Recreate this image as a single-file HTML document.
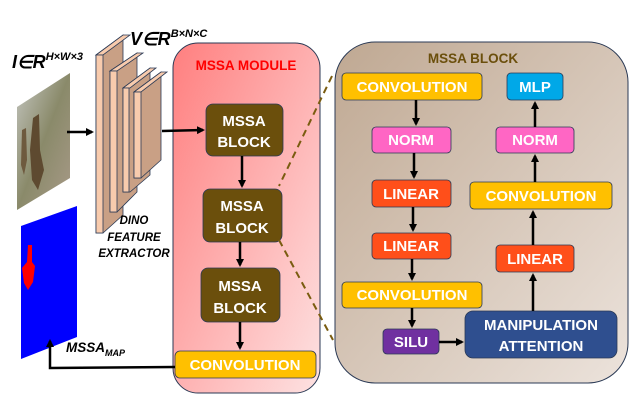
<!DOCTYPE html>
<html><head><meta charset="utf-8"><style>
html,body{margin:0;padding:0;background:#fff;}
svg{display:block;font-family:"Liberation Sans",sans-serif;font-weight:bold;}
</style></head><body>
<svg width="644" height="403" viewBox="0 0 644 403" xmlns="http://www.w3.org/2000/svg">
<defs>
<linearGradient id="gm" x1="0" y1="0" x2="1" y2="1"><stop offset="0" stop-color="#ff7f7f"/><stop offset="1" stop-color="#fde2e2"/></linearGradient>
<linearGradient id="gb" x1="0" y1="0" x2="1" y2="1"><stop offset="0" stop-color="#bfa892"/><stop offset="1" stop-color="#ece3dc"/></linearGradient>
<linearGradient id="gi" x1="0" y1="0" x2="1" y2="1"><stop offset="0" stop-color="#c4c6c0"/><stop offset="0.5" stop-color="#8a8a6a"/><stop offset="1" stop-color="#a89a88"/></linearGradient>
<marker id="ah" markerWidth="8" markerHeight="8" refX="6" refY="4" orient="auto" markerUnits="userSpaceOnUse"><path d="M0,0 L8,4 L0,8 z" fill="#000"/></marker>
</defs>
<!-- input image -->
<polygon points="17,107 70,73 70,178 17,210" fill="url(#gi)"/>
<path d="M22,130 L26,128 L27,160 L24,175 L21,165 Z" fill="#6e5a3e"/>
<path d="M33,118 L39,114 L40,150 L44,170 L38,190 L32,180 L30,150 Z" fill="#5e4a30"/>
<polygon points="21,226 77,206 77,337 21,359" fill="#0000ff"/>
<path d="M28,245 L32,245 L32,262 L35,266 L33,282 L28,290 L24,283 L22,268 L27,262 Z" fill="#ff0000"/>
<text x="12" y="68" font-size="18" font-style="italic">I∈R<tspan font-size="11" dy="-8">H×W×3</tspan></text>
<text x="130" y="45" font-size="18" font-style="italic">V∈R<tspan font-size="11" dy="-8">B×N×C</tspan></text>
<!-- slabs -->
<g stroke="#2b3a55" stroke-width="0.8">
<polygon points="96,55 123,35 123,215 103,233 96,233" fill="#c9a085"/><polygon points="96,55 123,35 130,35 103,55" fill="#f8cbad"/><rect x="96" y="55" width="7" height="178" fill="#f8cbad"/>
<polygon points="110,71 137,53 137,192 117,212 110,212" fill="#c9a085"/><polygon points="110,71 137,53 143,53 117,71" fill="#f8cbad"/><rect x="110" y="71" width="7" height="141" fill="#f8cbad"/>
<polygon points="123,88 150,68 150,175 130,192 123,192" fill="#c9a085"/><polygon points="123,88 150,68 156,68 130,88" fill="#f8cbad"/><rect x="123" y="88" width="6" height="104" fill="#f8cbad"/>
<polygon points="134,92 161,72 161,160 141,178 134,178" fill="#c9a085"/><polygon points="134,92 161,72 167,72 141,92" fill="#f8cbad"/><rect x="134" y="92" width="7" height="86" fill="#f8cbad"/>
</g>
<g font-size="11.5" font-style="italic" text-anchor="middle"><text x="134" y="224">DINO</text><text x="134" y="241">FEATURE</text><text x="134" y="257">EXTRACTOR</text></g>
<!-- module -->
<rect x="173" y="43" width="147" height="350" rx="25" fill="url(#gm)" stroke="#2b3a55" stroke-width="1"/>
<text x="246" y="70" font-size="13.5" fill="#ff0000" text-anchor="middle">MSSA MODULE</text>
<g fill="#6b4f0c" stroke="#2b3a55" stroke-width="0.8">
<rect x="206" y="104" width="77" height="52" rx="7"/><rect x="203" y="189" width="79" height="53" rx="7"/><rect x="201" y="268" width="79" height="54" rx="7"/></g>
<g font-size="15" fill="#fff" text-anchor="middle">
<text x="244" y="126">MSSA</text><text x="244" y="147">BLOCK</text>
<text x="242" y="211">MSSA</text><text x="242" y="233">BLOCK</text>
<text x="240" y="291">MSSA</text><text x="240" y="313">BLOCK</text></g>
<rect x="175" y="351" width="141" height="27" rx="5" fill="#ffc000" stroke="#2b3a55" stroke-width="0.8"/>
<text x="245" y="370" font-size="15" fill="#fff" text-anchor="middle">CONVOLUTION</text>
<!-- arrows left -->
<g stroke="#000" stroke-width="2.5" fill="none">
<line x1="67" y1="132" x2="92" y2="132" marker-end="url(#ah)"/>
<line x1="162" y1="131" x2="203" y2="130" marker-end="url(#ah)"/>
<line x1="242" y1="156" x2="242" y2="186" marker-end="url(#ah)"/>
<line x1="240" y1="242" x2="240" y2="265" marker-end="url(#ah)"/>
<line x1="240" y1="322" x2="240" y2="348" marker-end="url(#ah)"/>
<polyline points="175,367 50,368 50,341" marker-end="url(#ah)"/>
</g>
<text x="66" y="352" font-size="13.5" font-style="italic">MSSA<tspan font-size="9" dy="4">MAP</tspan></text>
<g stroke="#7a5c10" stroke-width="2" stroke-dasharray="7,5"><line x1="332" y1="76" x2="279" y2="186"/><line x1="279" y1="240" x2="333" y2="340"/></g>
<!-- block -->
<rect x="335" y="42" width="293" height="341" rx="40" fill="url(#gb)" stroke="#2b3a55" stroke-width="1"/>
<text x="473" y="63" font-size="13.5" fill="#6b4f0c" text-anchor="middle">MSSA BLOCK</text>
<g stroke="#2b3a55" stroke-width="0.8">
<rect x="342" y="73" width="140" height="27" rx="4" fill="#ffc000"/>
<rect x="372" y="127" width="79" height="26" rx="4" fill="#ff66c4"/>
<rect x="372" y="180" width="79" height="27" rx="4" fill="#ff4f1a"/>
<rect x="372" y="233" width="79" height="26" rx="4" fill="#ff4f1a"/>
<rect x="342" y="282" width="140" height="26" rx="4" fill="#ffc000"/>
<rect x="383" y="329" width="56" height="25" rx="4" fill="#7030a0"/>
<rect x="465" y="311" width="152" height="47" rx="8" fill="#2f4f8f"/>
<rect x="496" y="245" width="78" height="27" rx="4" fill="#ff4f1a"/>
<rect x="470" y="182" width="142" height="27" rx="4" fill="#ffc000"/>
<rect x="496" y="127" width="78" height="26" rx="4" fill="#ff66c4"/>
<rect x="507" y="73" width="56" height="27" rx="4" fill="#00a8e8"/>
</g>
<g font-size="15" fill="#fff" text-anchor="middle">
<text x="412" y="92">CONVOLUTION</text><text x="411" y="145">NORM</text><text x="411" y="199">LINEAR</text><text x="411" y="251">LINEAR</text>
<text x="412" y="300">CONVOLUTION</text><text x="411" y="347">SILU</text>
<text x="541" y="330">MANIPULATION</text><text x="541" y="351">ATTENTION</text>
<text x="535" y="264">LINEAR</text><text x="541" y="201">CONVOLUTION</text><text x="535" y="145">NORM</text><text x="535" y="92">MLP</text></g>
<g stroke="#000" stroke-width="2.5">
<line x1="416" y1="100" x2="416" y2="124" marker-end="url(#ah)"/>
<line x1="414" y1="153" x2="414" y2="177" marker-end="url(#ah)"/>
<line x1="413" y1="207" x2="413" y2="230" marker-end="url(#ah)"/>
<line x1="412" y1="259" x2="412" y2="279" marker-end="url(#ah)"/>
<line x1="412" y1="308" x2="412" y2="326" marker-end="url(#ah)"/>
<line x1="439" y1="342" x2="462" y2="342" marker-end="url(#ah)"/>
<line x1="533" y1="311" x2="533" y2="275" marker-end="url(#ah)"/>
<line x1="533" y1="245" x2="533" y2="212" marker-end="url(#ah)"/>
<line x1="535" y1="182" x2="535" y2="156" marker-end="url(#ah)"/>
<line x1="535" y1="127" x2="535" y2="103" marker-end="url(#ah)"/>
</g>
</svg>
</body></html>
